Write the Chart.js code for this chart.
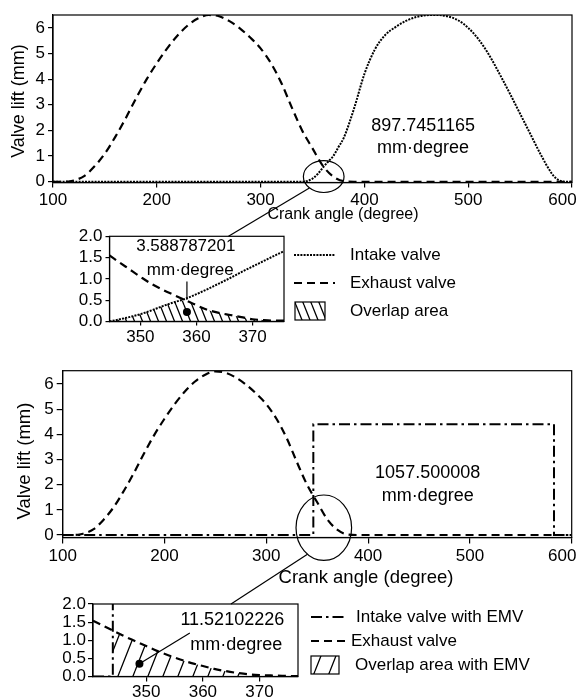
<!DOCTYPE html>
<html lang="en">
<head>
  <meta charset="UTF-8" />
  <title>Valve lift and overlap area</title>
  <script src="https://cdn.jsdelivr.net/npm/chart.js"></script>
  <style>
    body { margin: 0; background: #fff; }
    .page { position: relative; width: 580px; height: 699px; overflow: hidden; background: #fff; }
    .page canvas { position: absolute; left: 0; }
  </style>
</head>
<body>
  <div class="page">
    <canvas id="topMain" width="580" height="240" style="top:0"></canvas>
    <canvas id="topZoom" width="580" height="125" style="top:225px"></canvas>
    <canvas id="botMain" width="580" height="262" style="top:345px"></canvas>
    <canvas id="botZoom" width="580" height="104" style="top:595px"></canvas>
  </div>

  <script>
    // tick labels
    const mainTicksX = [100, 200, 300, 400, 500, 600];
    const mainTicksY = [0, 1, 2, 3, 4, 5, 6];
    const zoomTicksX = [350, 360, 370];
    const zoomTicksY = [0, 0.5, 1, 1.5, 2];

    // exhaust valve, full cycle (degree / mm)
    const exhaustAngle = [100, 110, 115, 120, 130, 140, 150, 160, 170, 180, 190, 200, 210, 220, 230, 240, 250,
      260, 270, 280, 290, 300, 310, 320, 330, 340, 350, 360, 370, 380, 390, 600];
    const exhaustLift = [0, 0, 0.01, 0.05, 0.22, 0.6, 1.1, 1.75, 2.47, 3.25, 3.98, 4.62, 5.2, 5.7, 6.1, 6.37, 6.5,
      6.45, 6.26, 5.98, 5.62, 5.2, 4.62, 3.85, 2.9, 2.0, 1.3, 0.62, 0.2, 0.02, 0, 0];

    // intake valve (conventional)
    const intakeAngle = [100, 340, 345, 350, 355, 360, 365, 370, 375, 380, 390, 400, 410, 420, 430, 440, 450, 460,
      470, 480, 490, 500, 510, 520, 530, 540, 550, 560, 570, 580, 585, 590, 593, 600];
    const intakeLift = [0, 0, 0.03, 0.12, 0.3, 0.55, 0.78, 1.0, 1.35, 1.7, 2.85, 4.2, 5.15, 5.72, 6.03, 6.27, 6.42, 6.49,
      6.5, 6.45, 6.3, 6.0, 5.55, 4.95, 4.22, 3.45, 2.65, 1.85, 1.05, 0.35, 0.12, 0.02, 0, 0];

    // intake valve with EMV
    const emvAngle = [100, 346.2, 346.2, 582.6, 582.6, 600];
    const emvLift = [0, 0, 4.4, 4.4, 0, 0];

    // zoomed overlap, conventional intake
    const zoomAAngle = [344.5, 346, 348, 350, 352, 354, 356, 358, 360, 362, 364, 366, 368, 370, 372, 374, 375.6];
    const zoomAIntake = [0, 0.04, 0.1, 0.17, 0.26, 0.36, 0.45, 0.53, 0.64, 0.76, 0.89, 1.02, 1.16, 1.29, 1.42, 1.55, 1.65];
    const zoomAExhaust = [1.55, 1.41, 1.23, 1.05, 0.88, 0.74, 0.62, 0.5, 0.38, 0.27, 0.2, 0.15, 0.1, 0.05, 0.03, 0.02, 0.02];

    // zoomed overlap, EMV intake
    const zoomBAngle = [340.6, 342, 344.1, 346, 348, 350, 352, 354, 356, 358, 360, 362, 364, 366, 368, 370, 372, 374, 376.8];
    const zoomBExhaust = [1.54, 1.43, 1.27, 1.12, 0.98, 0.84, 0.7, 0.58, 0.47, 0.37, 0.29, 0.21, 0.15, 0.1, 0.06, 0.04, 0.03, 0.02, 0.01];
    const zoomBEmvAngle = [340.6, 344.1, 344.1, 376.8];
    const zoomBEmvLift = [0, 0, 4.4, 4.4];
    const emvOpenAngle = 344.1;

    const FONT = "'Liberation Sans', Arial, sans-serif";
    Chart.defaults.font.family = FONT;
    Chart.defaults.color = '#000';

    const pts = (xs, ys) => xs.map((x, i) => ({ x, y: ys[i] }));

    function hatch(w, h, dir) {
      const c = document.createElement('canvas');
      c.width = w; c.height = h;
      const g = c.getContext('2d');
      g.strokeStyle = '#000';
      g.lineWidth = 1.3;
      g.beginPath();
      for (const k of [-1, 0, 1]) {
        if (dir === 'back') { g.moveTo(k * w, 0); g.lineTo(k * w + w, h); }
        else { g.moveTo(k * w, h); g.lineTo(k * w + w, 0); }
      }
      g.stroke();
      return g.createPattern(c, 'repeat');
    }
    const hatchBack = hatch(8, 20, 'back');
    const hatchFwd = hatch(15, 38, 'fwd');

    const dotted = { borderDash: [2, 1.2], borderWidth: 2 };
    const dashed = { borderDash: [8, 5], borderWidth: 2.2 };
    const dashDot = { borderDash: [11, 4, 2.5, 4], borderWidth: 2 };

    function line(data, style, extra) {
      return Object.assign({ type: 'line', data, borderColor: '#000', pointRadius: 0, fill: false,
        tension: 0.4, cubicInterpolationMode: 'monotone' }, style, extra || {});
    }

    // box around the plot
    const frame = {
      id: 'frame',
      afterDatasetsDraw(chart) {
        const { ctx, chartArea: a } = chart;
        ctx.save();
        ctx.strokeStyle = '#000';
        ctx.lineWidth = 1.2;
        ctx.strokeRect(a.left, a.top, a.right - a.left, a.bottom - a.top);
        ctx.restore();
      }
    };

    // last main label sits pulled in from the right edge, as in the source figure
    const mainXLabel = v => (v === 600 ? '600\u2007\u2007' : String(v));

    function scales(o) {
      const axisCommon = {
        type: 'linear',
        grid: { drawOnChartArea: false, tickLength: o.tickLen, color: '#000', tickColor: '#000', lineWidth: 1.2 },
        border: { color: '#000', width: 1.2 }
      };
      const noOverhang = s => { s.paddingLeft = 0; s.paddingRight = 0; s.paddingTop = 0; s.paddingBottom = 0; };
      return {
        x: Object.assign({}, axisCommon, {
          min: o.xMin, max: o.xMax,
          afterFit: s => { s.height = o.xh; noOverhang(s); },
          afterBuildTicks: s => { s.ticks = o.xTicks.map(v => ({ value: v })); },
          ticks: { autoSkip: false, maxRotation: 0, padding: o.xPad, font: { size: o.tickSize }, callback: o.xFmt || (v => v) }
        }),
        y: Object.assign({}, axisCommon, {
          min: o.yMin, max: o.yMax,
          afterFit: s => { s.width = o.yw; noOverhang(s); },
          afterBuildTicks: s => { s.ticks = o.yTicks.map(v => ({ value: v })); },
          ticks: { autoSkip: false, padding: o.yPad, font: { size: o.tickSize }, callback: o.yFmt || (v => v) }
        })
      };
    }

    function baseOptions(pad, sc) {
      return {
        responsive: false, animation: false, devicePixelRatio: 1,
        layout: { padding: pad },
        plugins: { legend: { display: false }, tooltip: { enabled: false } },
        scales: sc
      };
    }

    function text(ctx, s, x, y, size, rot) {
      ctx.save();
      ctx.font = size + 'px ' + FONT;
      ctx.fillStyle = '#000';
      ctx.textAlign = 'center';
      ctx.textBaseline = 'middle';
      ctx.translate(x, y);
      if (rot) ctx.rotate(rot);
      ctx.fillText(s, 0, 0);
      ctx.restore();
    }

    // zoom ellipse plus the leader to the inset
    function zoomMarker(chart, m, canvasTop) {
      const { ctx, scales: { x, y } } = chart;
      const cx = x.getPixelForValue(m.cx), cy = y.getPixelForValue(m.cy);
      const rx = Math.abs(x.getPixelForValue(m.cx + m.rx) - cx);
      const ry = Math.abs(y.getPixelForValue(m.cy + m.ry) - cy);
      ctx.save();
      ctx.strokeStyle = '#000';
      ctx.lineWidth = 1.2;
      ctx.beginPath();
      ctx.ellipse(cx, cy, rx, ry, 0, 0, Math.PI * 2);
      ctx.stroke();
      ctx.beginPath();
      ctx.moveTo(cx + rx * Math.cos(m.a), cy + ry * Math.sin(m.a));
      ctx.lineTo(m.toX, m.toY - canvasTop);
      ctx.stroke();
      ctx.restore();
    }

    // ---- top: conventional intake ----
    new Chart(document.getElementById('topMain'), {
      data: {
        datasets: [
          line(pts(intakeAngle, intakeLift), dotted),
          line(pts(exhaustAngle, exhaustLift), dashed)
        ]
      },
      options: baseOptions({ left: 0, top: 15, right: 8, bottom: 0 }, scales({
        xMin: 100, xMax: 600, yMin: -0.03, yMax: 6.5, xTicks: mainTicksX, yTicks: mainTicksY,
        xh: 57.5, yw: 53, tickLen: 5, xPad: 3, yPad: 3, tickSize: 17, xFmt: mainXLabel
      })),
      plugins: [frame, {
        id: 'notes',
        afterDraw(chart) {
          const { ctx, scales: { x, y } } = chart;
          zoomMarker(chart, { cx: 360.8, cy: 0.2, rx: 19.6, ry: 0.62, a: 2.35, toX: 228.5, toY: 236.3 }, 0);
          text(ctx, '897.7451165', x.getPixelForValue(456.5), y.getPixelForValue(2.17), 18);
          text(ctx, 'mm·degree', x.getPixelForValue(456.5), y.getPixelForValue(1.31), 18);
          text(ctx, 'Crank angle (degree)', 343, 215, 16);
          text(ctx, 'Valve lift (mm)', 19, 101, 18, -Math.PI / 2);
        }
      }]
    });

    const overlapA = zoomAAngle.map((a, i) => ({ x: a, y: Math.min(zoomAIntake[i], zoomAExhaust[i]) }));

    new Chart(document.getElementById('topZoom'), {
      data: {
        datasets: [
          line(overlapA, { borderWidth: 0 }, { fill: 'origin', backgroundColor: hatchBack }),
          line(pts(zoomAAngle, zoomAIntake), dotted),
          line(pts(zoomAAngle, zoomAExhaust), dashed)
        ]
      },
      options: baseOptions({ left: 0, top: 11.3, right: 296, bottom: 0 }, scales({
        xMin: 344.5, xMax: 375.6, yMin: 0, yMax: 2, xTicks: zoomTicksX, yTicks: zoomTicksY,
        xh: 28.6, yw: 109.5, tickLen: 4, xPad: 2, yPad: 3, tickSize: 17, yFmt: v => v.toFixed(1)
      })),
      plugins: [frame, {
        id: 'notes',
        afterDraw(chart) {
          const { ctx, scales: { x, y } } = chart;
          text(ctx, '3.588787201', x.getPixelForValue(358.1), y.getPixelForValue(1.76), 17);
          text(ctx, 'mm·degree', x.getPixelForValue(358.9), y.getPixelForValue(1.21), 17);
          ctx.save();
          ctx.strokeStyle = '#000';
          ctx.lineWidth = 1.2;
          ctx.beginPath();
          ctx.moveTo(x.getPixelForValue(358.3), y.getPixelForValue(0.94));
          ctx.lineTo(x.getPixelForValue(358.3), y.getPixelForValue(0.51));
          ctx.stroke();
          ctx.beginPath();
          ctx.arc(x.getPixelForValue(358.3), y.getPixelForValue(0.22), 4, 0, Math.PI * 2);
          ctx.fill();
          // legend
          const top = 225;
          const rows = [
            { y: 255, label: 'Intake valve', style: dotted },
            { y: 283, label: 'Exhaust valve', style: dashed },
            { y: 311, label: 'Overlap area' }
          ];
          ctx.font = '17px ' + FONT;
          ctx.textAlign = 'left';
          ctx.textBaseline = 'middle';
          rows.forEach(r => {
            const yy = r.y - top;
            if (r.style) {
              ctx.setLineDash(r.style.borderDash);
              ctx.lineWidth = r.style.borderWidth;
              ctx.beginPath();
              ctx.moveTo(294, yy);
              ctx.lineTo(335, yy);
              ctx.stroke();
              ctx.setLineDash([]);
            } else {
              ctx.fillStyle = hatchBack;
              ctx.fillRect(295, yy - 9, 30, 18);
              ctx.lineWidth = 1.2;
              ctx.strokeRect(295, yy - 9, 30, 18);
            }
            ctx.fillStyle = '#000';
            ctx.fillText(r.label, 350, yy);
          });
          ctx.restore();
        }
      }]
    });

    // ---- bottom: intake with EMV ----
    new Chart(document.getElementById('botMain'), {
      data: {
        datasets: [
          line(pts(emvAngle, emvLift), dashDot, { tension: 0, cubicInterpolationMode: 'default' }),
          line(pts(exhaustAngle, exhaustLift), dashed)
        ]
      },
      options: baseOptions({ left: 0, top: 25.7, right: 8.3, bottom: 0 }, scales({
        xMin: 100, xMax: 600, yMin: -0.1, yMax: 6.53, xTicks: mainTicksX, yTicks: mainTicksY,
        xh: 69.5, yw: 62.7, tickLen: 6, xPad: 3, yPad: 3, tickSize: 17, xFmt: mainXLabel
      })),
      plugins: [frame, {
        id: 'notes',
        afterDraw(chart) {
          const { ctx, scales: { x, y } } = chart;
          zoomMarker(chart, { cx: 356.5, cy: 0.29, rx: 27.3, ry: 1.3, a: 2.2, toX: 231, toY: 604 }, 345);
          text(ctx, '1057.500008', x.getPixelForValue(458.5), y.getPixelForValue(2.45), 18);
          text(ctx, 'mm·degree', x.getPixelForValue(458.5), y.getPixelForValue(1.56), 18);
          text(ctx, 'Crank angle (degree)', 366, 578 - 345, 18.5);
          text(ctx, 'Valve lift (mm)', 25, 461 - 345, 18.5, -Math.PI / 2);
        }
      }]
    });

    const overlapB = zoomBAngle.map((a, i) => ({ x: a, y: zoomBExhaust[i] })).filter(p => p.x >= emvOpenAngle);

    new Chart(document.getElementById('botZoom'), {
      data: {
        datasets: [
          line(overlapB, { borderWidth: 0 }, { fill: 'origin', backgroundColor: hatchFwd }),
          line(pts(zoomBEmvAngle, zoomBEmvLift), dashDot, { tension: 0, cubicInterpolationMode: 'default' }),
          line(pts(zoomBAngle, zoomBExhaust), dashed)
        ]
      },
      options: baseOptions({ left: 0, top: 9, right: 282, bottom: 0 }, scales({
        xMin: 340.6, xMax: 376.8, yMin: 0, yMax: 2, xTicks: zoomTicksX, yTicks: zoomTicksY,
        xh: 22.5, yw: 93, tickLen: 5, xPad: 1, yPad: 2, tickSize: 17, yFmt: v => v.toFixed(1)
      })),
      plugins: [frame, {
        id: 'notes',
        afterDraw(chart) {
          const { ctx, scales: { x, y } } = chart;
          text(ctx, '11.52102226', x.getPixelForValue(365.2), y.getPixelForValue(1.57), 18);
          text(ctx, 'mm·degree', x.getPixelForValue(365.9), y.getPixelForValue(0.86), 18);
          ctx.save();
          ctx.strokeStyle = '#000';
          ctx.fillStyle = '#000';
          ctx.lineWidth = 1.2;
          const dx = x.getPixelForValue(348.8), dy = y.getPixelForValue(0.35);
          ctx.beginPath();
          ctx.moveTo(dx, dy);
          ctx.lineTo(x.getPixelForValue(357.7), y.getPixelForValue(1.2));
          ctx.stroke();
          ctx.beginPath();
          ctx.arc(dx, dy, 4, 0, Math.PI * 2);
          ctx.fill();
          // legend
          const top = 595;
          const rows = [
            { y: 617, label: 'Intake valve with EMV', style: dashDot, x2: 347, tx: 356 },
            { y: 641, label: 'Exhaust valve', style: dashed, x2: 350, tx: 351 },
            { y: 665, label: 'Overlap area with EMV', tx: 355 }
          ];
          ctx.font = '17px ' + FONT;
          ctx.textAlign = 'left';
          ctx.textBaseline = 'middle';
          rows.forEach(r => {
            const yy = r.y - top;
            if (r.style) {
              ctx.setLineDash(r.style.borderDash);
              ctx.lineWidth = r.style.borderWidth;
              ctx.beginPath();
              ctx.moveTo(311, yy);
              ctx.lineTo(r.x2, yy);
              ctx.stroke();
              ctx.setLineDash([]);
            } else {
              ctx.fillStyle = hatchFwd;
              ctx.fillRect(311, yy - 9, 28, 18);
              ctx.lineWidth = 1.2;
              ctx.strokeRect(311, yy - 9, 28, 18);
            }
            ctx.fillStyle = '#000';
            ctx.fillText(r.label, r.tx, yy);
          });
          ctx.restore();
        }
      }]
    });
  </script>
</body>
</html>
